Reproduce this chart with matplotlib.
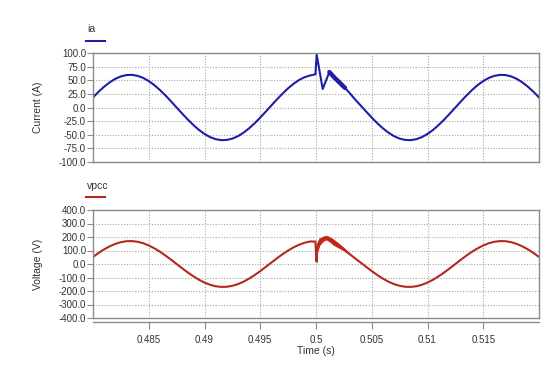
import numpy as np
import matplotlib
matplotlib.use("Agg")
import matplotlib.pyplot as plt

plt.rcParams['font.family'] = ['Liberation Sans', 'DejaVu Sans']

# ---- data ----
time = np.round(np.arange(0.48, 0.52001, 0.0005), 4)

ia = [18.5, 28.9, 38.2, 46.2, 52.6, 57.1, 59.5, 59.9, 58.1, 54.3,
      48.5, 41.1, 32.1, 22.1, 11.2, 0.0, -11.2, -22.1, -32.1, -41.1,
      -48.5, -54.3, -58.1, -59.9, -59.5, -57.1, -52.6, -46.2, -38.2, -28.9,
      -18.5, -7.5, 3.8, 14.9, 25.5, 35.3, 43.7, 50.7, 55.8, 58.9,
      60.0, 58.9, 55.8, 50.7, 43.7, 35.3, 25.5, 14.9, 3.8, -7.5,
      -18.5, -28.9, -38.2, -46.2, -52.6, -57.1, -59.5, -59.9, -58.1, -54.3,
      -48.5, -41.1, -32.1, -22.1, -11.2, 0.0, 11.2, 22.1, 32.1, 41.1,
      48.5, 54.3, 58.1, 59.9, 59.5, 57.1, 52.6, 46.2, 38.2, 28.9, 18.5]

vpcc = [52.5, 81.9, 108.4, 131.0, 149.0, 161.7, 168.7, 169.7, 164.7, 153.8,
        137.5, 116.4, 91.1, 62.6, 31.9, 0.0, -31.9, -62.6, -91.1, -116.4,
        -137.5, -153.8, -164.7, -169.7, -168.7, -161.7, -149.0, -131.0, -108.4, -81.9,
        -52.5, -21.3, 10.7, 42.3, 72.4, 99.9, 123.9, 143.5, 158.1, 167.0,
        170.0, 167.0, 158.1, 143.5, 123.9, 99.9, 72.4, 42.3, 10.7, -21.3,
        -52.5, -81.9, -108.4, -131.0, -149.0, -161.7, -168.7, -169.7, -164.7, -153.8,
        -137.5, -116.4, -91.1, -62.6, -31.9, 0.0, 31.9, 62.6, 91.1, 116.4,
        137.5, 153.8, 164.7, 169.7, 168.7, 161.7, 149.0, 131.0, 108.4, 81.9, 52.5]

# transient detail around t = 0.5 s
ia_tr_t = [0.49995, 0.50006, 0.5006, 0.5012, 0.5016, 0.5021, 0.5026, 0.5030]
ia_tr = [61, 97, 34, 65, 56, 46, 36, 27]

v_tr_t = [0.49995, 0.50003, 0.5001, 0.5003, 0.5006, 0.5009, 0.5012, 0.5016, 0.5020, 0.5024, 0.5028, 0.5030]
v_tr = [166, 20, 120, 165, 185, 196, 185, 160, 138, 115, 88, 74]
v_band = [0, 6, 30, 24, 16, 12, 16, 18, 14, 9, 4, 0]

xticks = [0.485, 0.49, 0.495, 0.5, 0.505, 0.51, 0.515]
xtick_labels = ['0.485', '0.49', '0.495', '0.5', '0.505', '0.51', '0.515']
ia_ticks = [100, 75, 50, 25, 0, -25, -50, -75, -100]
v_ticks = [400, 300, 200, 100, 0, -100, -200, -300, -400]

# ---- merge transient detail with the smooth samples ----
time_a = np.array(time)
keep = (time_a < 0.4999) | (time_a > 0.5031)
t_ia = np.concatenate([time_a[keep], ia_tr_t])
y_ia = np.concatenate([np.array(ia)[keep], ia_tr])
o = np.argsort(t_ia); t_ia, y_ia = t_ia[o], y_ia[o]
t_v = np.concatenate([time_a[keep], v_tr_t])
y_v = np.concatenate([np.array(vpcc)[keep], v_tr])
o = np.argsort(t_v); t_v, y_v = t_v[o], y_v[o]

blue = '#1e1ea6'
red = '#b3281f'
bright = '#d92414'
frame = '#8c8c8c'
txt = '#333333'

fig = plt.figure(figsize=(5.6, 3.68), dpi=100)
ax1 = fig.add_axes([93/560, 1-162/368, 446/560, 109/368])
ax2 = fig.add_axes([93/560, 1-318/368, 446/560, 108/368])

def style(ax, yt, lim):
    ax.set_xlim(0.48, 0.52)
    ax.set_ylim(-lim, lim)
    ax.set_xticks(xticks)
    ax.set_xticklabels(xtick_labels)
    ax.set_yticks(yt)
    ax.set_yticklabels([f"{v:.1f}" for v in yt])
    ax.grid(True, linestyle=(0, (1, 1.5)), color='#a8a8a8', linewidth=0.8)
    for s in ax.spines.values():
        s.set_color(frame)
        s.set_linewidth(1.0)
    ax.tick_params(axis='y', colors=frame, labelcolor=txt, labelsize=7, length=4, width=0.8, pad=1)
    ax.tick_params(axis='x', colors=frame, labelcolor=txt, labelsize=7, length=5, width=0.8, pad=4)

style(ax1, ia_ticks, 100)
style(ax2, v_ticks, 400)
ax1.tick_params(axis='x', length=0, labelbottom=False)

ax1.plot(t_ia, y_ia, color=blue, lw=1.5, solid_joinstyle='round')
seg = (t_ia >= 0.5012) & (t_ia <= 0.5028)
ax1.plot(t_ia[seg], y_ia[seg], color=blue, lw=3.2, solid_capstyle='round')

ax2.plot(t_v, y_v, color=red, lw=1.5, solid_joinstyle='round')
vt = np.array(v_tr_t); vv = np.array(v_tr); vb = np.array(v_band)
ax2.fill_between(vt[1:], (vv - vb)[1:], (vv + vb)[1:], color=bright, lw=0.8, edgecolor=bright)

ax1.set_ylabel('Current (A)', fontsize=7.5, color=txt)
ax2.set_ylabel('Voltage (V)', fontsize=7.5, color=txt)
ax1.yaxis.set_label_coords(-0.112, 0.5)
ax2.yaxis.set_label_coords(-0.112, 0.5)
ax2.set_xlabel('Time (s)', fontsize=7.5, color=txt, labelpad=1)
ax2.spines['bottom'].set_position(('outward', 3))
ax2.axhline(-400, color=frame, lw=1.0, clip_on=False)

# legends
fig.text(87/560, 1-29/368, 'ia', fontsize=7.5, color=txt, va='center', ha='left')
fig.add_artist(plt.Line2D([86/560, 105/560], [1-41/368, 1-41/368], color=blue, lw=1.5))
fig.text(87/560, 1-186/368, 'vpcc', fontsize=7.5, color=txt, va='center', ha='left')
fig.add_artist(plt.Line2D([86/560, 105/560], [1-197/368, 1-197/368], color=red, lw=1.5))

fig.savefig('out.png', dpi=100)
